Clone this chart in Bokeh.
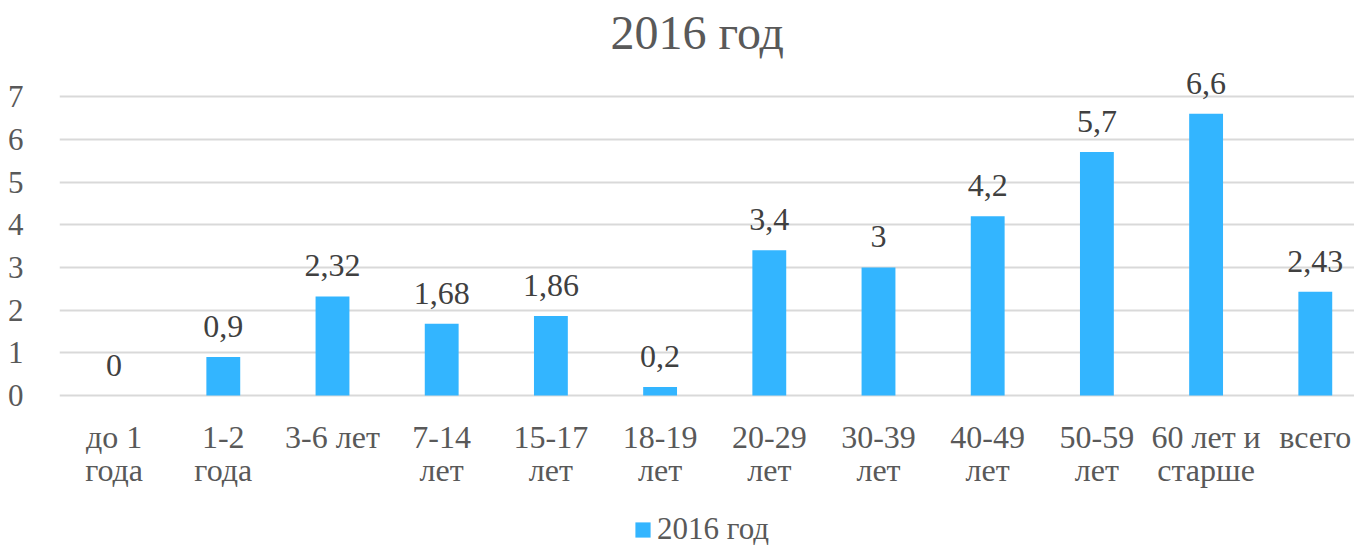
from bokeh.plotting import figure
from bokeh.models import (ColumnDataSource, LabelSet, FixedTicker, Range1d,
                          Legend, LegendItem, Title)
from bokeh.core.properties import value
from bokeh.embed import file_html
from bokeh.resources import INLINE

categories = ["до 1\nгода", "1-2\nгода", "3-6 лет", "7-14\nлет", "15-17\nлет", "18-19\nлет",
              "20-29\nлет", "30-39\nлет", "40-49\nлет", "50-59\nлет", "60 лет и\nстарше", "всего"]
values = [0, 0.9, 2.32, 1.68, 1.86, 0.2, 3.4, 3, 4.2, 5.7, 6.6, 2.43]
value_labels = ["0", "0,9", "2,32", "1,68", "1,86", "0,2", "3,4", "3", "4,2", "5,7", "6,6", "2,43"]
y_ticks = [0, 1, 2, 3, 4, 5, 6, 7]
series_name = "2016 год"
title_text = "2016 год"

FONT = "Liberation Serif"
GRAY = "#595959"
BAR = "#33B5FF"

xs = list(range(len(categories)))
src = ColumnDataSource(dict(x=xs, top=values, lab=value_labels, cat=categories,
                            base=[0] * len(xs)))

W, H = 1354, 547
FRAME_LEFT, FRAME_TOP, ZERO_Y = 59, 60, 395
PX_X, PX_Y = 109.2, 42.7

p = figure(width=W, height=H, output_backend="svg", toolbar_location=None,
           x_axis_location=None,
           x_range=Range1d(-0.5, -0.5 + (W - FRAME_LEFT) / PX_X),
           y_range=Range1d(-(H - ZERO_Y) / PX_Y, (ZERO_Y - FRAME_TOP) / PX_Y),
           min_border_left=FRAME_LEFT, min_border_right=0, min_border_top=FRAME_TOP,
           min_border_bottom=0)
p.outline_line_color = None
p.background_fill_color = "white"
p.border_fill_color = "white"

p.title = Title(text=title_text, align="left", offset=551, vertical_align="top",
                text_font=FONT, text_font_size="48px",
                text_color=GRAY, text_font_style="normal", standoff=0)

r = p.vbar(x="x", top="top", width=0.31, source=src, fill_color=BAR, line_color=None)

p.xgrid.grid_line_color = None
p.ygrid.ticker = FixedTicker(ticks=y_ticks)
p.ygrid.grid_line_color = "#d9d9d9"
p.ygrid.grid_line_width = 2

p.yaxis.ticker = FixedTicker(ticks=y_ticks)
p.yaxis.axis_line_color = None
p.yaxis.major_tick_line_color = None
p.yaxis.minor_tick_line_color = None
p.yaxis.major_label_text_font = FONT
p.yaxis.major_label_text_font_size = "31px"
p.yaxis.major_label_text_color = GRAY
p.yaxis.major_label_standoff = 30

# category labels under the bars
p.text(x="x", y="base", text="cat", source=src, text_align="center",
       text_baseline="top", y_offset=23, text_font=value(FONT),
       text_font_size="32px", text_color=GRAY, text_line_height=0.92)

labels = LabelSet(x="x", y="top", text="lab", source=src, text_align="center",
                  text_baseline="alphabetic", y_offset=20, text_font=FONT,
                  text_font_size="32px", text_color="#404040")
p.add_layout(labels)

legend = Legend(items=[LegendItem(label=series_name, renderers=[r])],
                location=(574, 0), orientation="horizontal",
                label_text_font=FONT, label_text_font_size="31px",
                label_text_color=GRAY, glyph_width=19, glyph_height=19,
                label_standoff=5, padding=0, margin=0, spacing=0,
                border_line_color=None, background_fill_alpha=0)
p.add_layout(legend)

open("out.html", "w").write(file_html(p, INLINE))
